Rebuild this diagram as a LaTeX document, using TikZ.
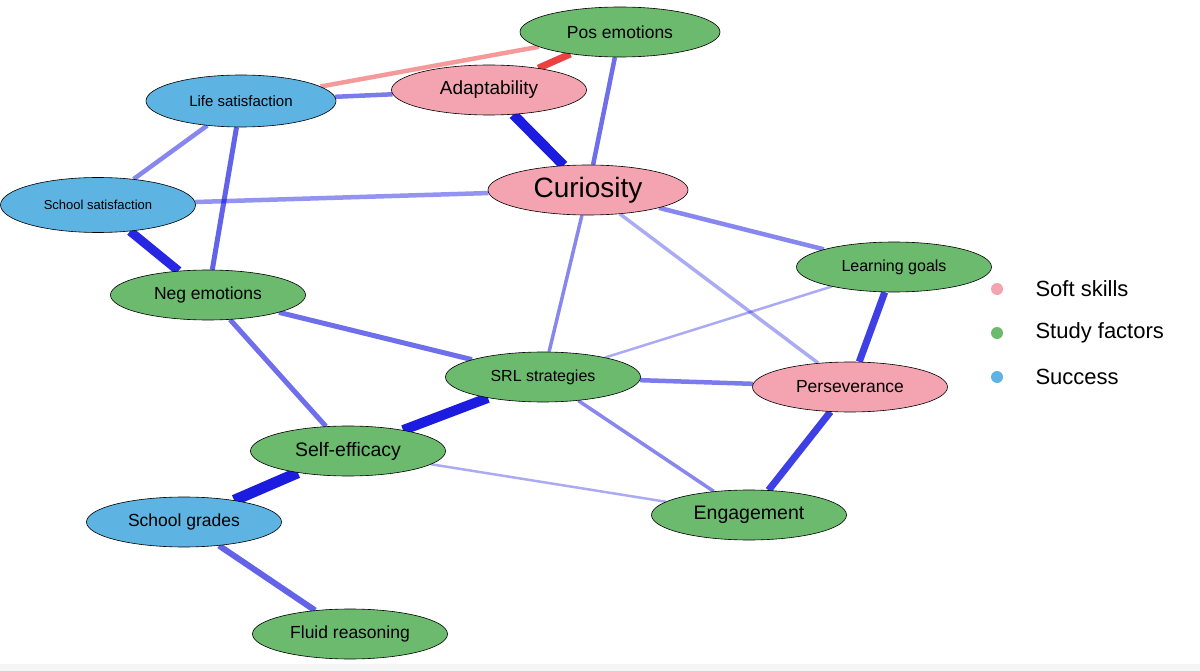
\documentclass[tikz,border=0pt]{standalone}
\usepackage{fontspec}
\setmainfont{Liberation Sans}
\usetikzlibrary{shapes.geometric,backgrounds}
\definecolor{soft}{HTML}{F4A3B1}
\definecolor{study}{HTML}{6CBA6E}
\definecolor{succ}{HTML}{5DB3E2}
\definecolor{eb}{HTML}{1010E0}
\definecolor{er}{HTML}{E82020}
\tikzset{
 nd/.style={ellipse,draw=black,line width=0.6pt,minimum width=195pt,minimum height=50pt,inner sep=0pt,font=\fontsize{17.5}{20}\selectfont},
 sk/.style={nd,fill=soft}, st/.style={nd,fill=study}, su/.style={nd,fill=succ},
 ed/.style={draw=eb,draw opacity=#1}, ed/.default=0.5,
 lg/.style={circle,inner sep=0pt,minimum size=12pt},
 lt/.style={anchor=west,font=\fontsize{22}{25}\selectfont}
}
\begin{document}
\begin{tikzpicture}[x=1pt,y=-1pt]
\useasboundingbox (0,0) rectangle (1200,671);
\node[st,minimum width=200pt] (pe) at (620,32) {Pos emotions};
\node[sk,font=\fontsize{19}{22}\selectfont] (ad) at (489,90) {Adaptability};
\node[su,minimum width=190pt,minimum height=52pt,font=\fontsize{15}{18}\selectfont] (ls) at (241,101) {Life satisfaction};
\node[sk,minimum width=200pt,font=\fontsize{28}{30}\selectfont] (cu) at (588,190) {Curiosity};
\node[su,minimum height=55pt,font=\fontsize{13}{16}\selectfont] (ss) at (98,205) {School satisfaction};
\node[st,font=\fontsize{16}{19}\selectfont] (lgo) at (894,267) {Learning goals};
\node[st] (ne) at (208,295) {Neg emotions};
\node[st,font=\fontsize{16}{19}\selectfont] (srl) at (543,377) {SRL strategies};
\node[sk] (pv) at (850,387) {Perseverance};
\node[st,font=\fontsize{19.5}{22}\selectfont] (se) at (348,451) {Self-efficacy};
\node[st,font=\fontsize{19.5}{22}\selectfont] (en) at (749,515) {Engagement};
\node[su] (sg) at (184,522) {School grades};
\node[st] (fr) at (350,634) {Fluid reasoning};
\begin{scope}[on background layer]
\fill[white] (0,0) rectangle (1200,671);
\fill[gray!8] (0,664) rectangle (1200,671);
\draw[draw=er,line width=7pt,draw opacity=0.85] (ad) -- (pe);
\draw[draw=er,line width=4.5pt,draw opacity=0.45] (ls) -- (pe);
\draw[ed=0.55,line width=4.5pt] (ls) -- (ad);
\draw[ed=0.95,line width=10pt] (ad) -- (cu);
\draw[ed=0.6,line width=4.5pt] (pe) -- (cu);
\draw[ed=0.5,line width=4.5pt] (ls) -- (ss);
\draw[ed=0.65,line width=5pt] (ls) -- (ne);
\draw[ed=0.45,line width=4.5pt] (ss) -- (cu);
\draw[ed=0.9,line width=9pt] (ss) -- (ne);
\draw[ed=0.5,line width=4.5pt] (cu) -- (lgo);
\draw[ed=0.35,line width=3.5pt] (cu) -- (pv);
\draw[ed=0.5,line width=3.5pt] (cu) -- (srl);
\draw[ed=0.35,line width=2.5pt] (lgo) -- (srl);
\draw[ed=0.8,line width=7pt] (lgo) -- (pv);
\draw[ed=0.6,line width=5pt] (ne) -- (srl);
\draw[ed=0.6,line width=5pt] (ne) -- (se);
\draw[ed=0.55,line width=4.5pt] (srl) -- (pv);
\draw[ed=0.95,line width=10pt] (srl) -- (se);
\draw[ed=0.5,line width=3.5pt] (srl) -- (en);
\draw[ed=0.8,line width=7pt] (pv) -- (en);
\draw[ed=0.35,line width=2.5pt] (se) -- (en);
\draw[ed=0.95,line width=11pt] (se) -- (sg);
\draw[ed=0.65,line width=6pt] (sg) -- (fr);
\end{scope}
\node[lg,fill=soft] (d1) at (997,289) {};
\node[lg,fill=study] (d2) at (997,333) {};
\node[lg,fill=succ] (d3) at (997,377) {};
\node[lt] (t1) at (1032,289) {Soft skills};
\node[lt] (t2) at (1032,333) {Study factors};
\node[lt] (t3) at (1032,377) {Success};
\end{tikzpicture}
\end{document}
